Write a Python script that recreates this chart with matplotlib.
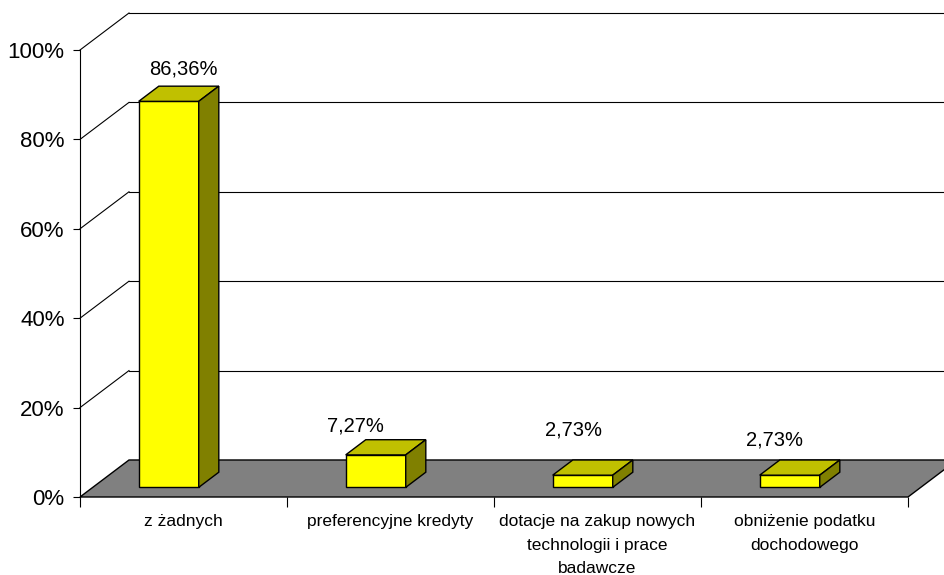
import matplotlib
matplotlib.use("Agg")
import matplotlib.pyplot as plt
from matplotlib.patches import Polygon

plt.rcParams['font.family'] = ['Liberation Sans', 'DejaVu Sans']

# --- data ---
categories = [
    "z żadnych",
    "preferencyjne kredyty",
    "dotacje na zakup nowych\ntechnologii i prace\nbadawcze",
    "obniżenie podatku\ndochodowego",
]
values = [86.36, 7.27, 2.73, 2.73]
y_ticks = [0, 20, 40, 60, 80, 100]

# --- label nudges (points) relative to the centre of each bar top ---
label_nudge = [(3, 18), (-22, 15), (-14, 27), (-18, 20)]

# --- pseudo-3D geometry (data units) ---
DX = 0.2367      # depth offset along x (category units)
DY = 8.28        # depth offset along y (percent units)
Z0 = 0.26        # bar front position as a fraction of the depth
DZ = 0.41        # bar depth as a fraction of the depth
BAR_LEFT = 0.222
BAR_W = 0.29

FRONT = "#FFFF00"
TOP = "#C0C000"
SIDE = "#808000"
FLOOR = "#808080"

fig = plt.figure(figsize=(9.44, 5.75), dpi=100)
ax = fig.add_axes([80 / 944, 78 / 575, 828 / 944, 447 / 575])
n = len(categories)
ax.set_xlim(0, n)
ax.set_ylim(0, 100)
ax.patch.set_visible(False)

# floor
ax.add_patch(Polygon([(0, 0), (n, 0), (n + DX, DY), (DX, DY)],
                     closed=True, facecolor=FLOOR, edgecolor="black",
                     lw=1.0, zorder=1, clip_on=False))

# wall gridlines
for t in y_ticks[1:]:
    ax.plot([0, DX], [t, t + DY], color="black", lw=0.8, zorder=1.5, clip_on=False)
    ax.plot([DX, n + DX], [t + DY, t + DY], color="black", lw=0.8,
            zorder=1.5, clip_on=False)

# bars
b = Z0 * DY
ddx = DZ * DX
ddy = DZ * DY
xs = [i + BAR_LEFT + Z0 * DX for i in range(n)]
ax.bar(xs, values, width=BAR_W, bottom=b, align="edge", color=FRONT,
       edgecolor="black", lw=1.0, zorder=3, clip_on=False)
for xl, v in zip(xs, values):
    top = [(xl, v + b), (xl + BAR_W, v + b),
           (xl + BAR_W + ddx, v + b + ddy), (xl + ddx, v + b + ddy)]
    side = [(xl + BAR_W, b), (xl + BAR_W + ddx, b + ddy),
            (xl + BAR_W + ddx, v + b + ddy), (xl + BAR_W, v + b)]
    ax.add_patch(Polygon(top, closed=True, facecolor=TOP, edgecolor="black",
                         lw=1.0, zorder=3, clip_on=False))
    ax.add_patch(Polygon(side, closed=True, facecolor=SIDE, edgecolor="black",
                         lw=1.0, zorder=3, clip_on=False))

# value labels
for xl, v, (nx, ny) in zip(xs, values, label_nudge):
    cx = xl + BAR_W / 2 + ddx / 2
    cy = v + b + ddy / 2
    txt = f"{v:.2f}".replace(".", ",") + "%"
    ax.annotate(txt, (cx, cy), xytext=(nx, ny), textcoords="offset points",
                ha="center", va="center", fontsize=14.5, zorder=4,
                annotation_clip=False)

# axes styling
for s in ("top", "right"):
    ax.spines[s].set_visible(False)
ax.spines["left"].set_color("black")
ax.spines["left"].set_linewidth(0.8)
ax.spines["bottom"].set_visible(False)

ax.set_yticks(y_ticks)
ax.set_yticklabels([f"{t}%" for t in y_ticks])
ax.tick_params(axis="y", length=5, width=0.8, pad=6, labelsize=16,
               direction="out")

ax.set_xticks(range(n + 1))
ax.set_xticklabels([""] * (n + 1))
ax.set_xticks([i + 0.5 for i in range(n)], minor=True)
ax.set_xticklabels(categories, minor=True, fontsize=12.5, linespacing=1.7,
                   va="top")
ax.tick_params(axis="x", which="major", length=7, width=0.8, direction="out")
ax.tick_params(axis="x", which="minor", length=0, pad=12.5)
ax.xaxis.set_ticks_position("bottom")

fig.savefig("out.png", dpi=100)
